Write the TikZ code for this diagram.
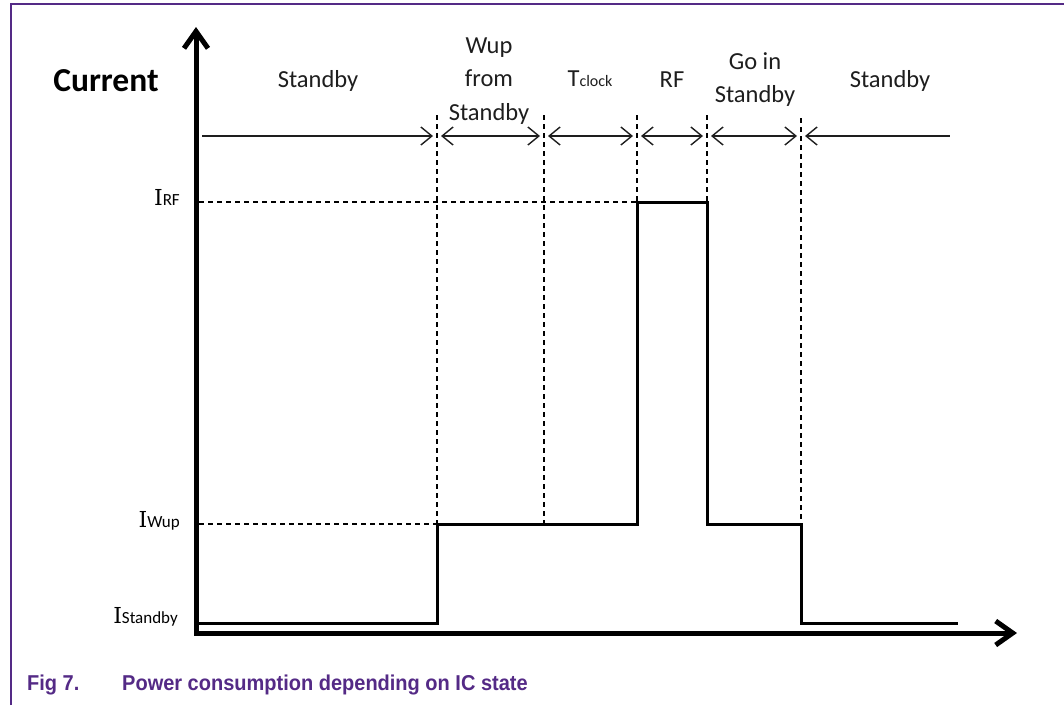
\documentclass[tikz,border=0pt]{standalone}
\usepackage{fontspec}
\setmainfont{Carlito}
\newfontfamily\capfont[FakeStretch=0.93]{Liberation Sans}
\newfontfamily\serifI{DejaVu Serif}
\usetikzlibrary{arrows.meta}
\definecolor{nxppurple}{RGB}{84,42,134}
\definecolor{txt}{RGB}{30,30,30}
\begin{document}
\begin{tikzpicture}[x=1pt,y=-1pt,
  lbl/.style={font=\fontsize{24.5}{33}\selectfont, text=txt, inner sep=0pt, anchor=base},
  ilbl/.style={inner sep=0pt, anchor=base east, text=black},
  span/.style={line width=1.4pt, draw=txt},
  barb/.tip={Straight Barb[length=11pt,width=18pt]},
  bigbarb/.tip={Straight Barb[length=17pt,width=24pt]},
  axis/.style={line width=5pt, draw=black, line join=miter},
  wave/.style={line width=3pt, draw=black, line join=miter},
  guide/.style={line width=1.3pt, draw=black, dash pattern=on 5pt off 4pt},
  frame/.style={line width=1.5pt, draw=nxppurple},
  caption/.style={inner sep=0pt, anchor=base west, text=nxppurple, font=\capfont\bfseries\fontsize{21.5}{21.5}\selectfont}]
\useasboundingbox (0,0) rectangle (1064,705);
\fill[white] (0,0) rectangle (1064,705);
% frame
\coordinate (fb) at (11,705);
\coordinate (fc) at (11,4);
\coordinate (fr) at (1064,4);
\draw[frame] (fb) -- (fc) -- (fr);

% axes
\coordinate (org) at (196,633);
\coordinate (ytip) at (196,27);
\coordinate (xtip) at (1017,633);
\draw[axis, bigbarb-bigbarb] (ytip) -- (org) -- (xtip);

% waveform
\coordinate (w0) at (198,623);
\coordinate (w1) at (437,623);
\coordinate (w2) at (437,524);
\coordinate (w3) at (637,524);
\coordinate (w4) at (637,202);
\coordinate (w5) at (707,202);
\coordinate (w6) at (707,524);
\coordinate (w7) at (801,524);
\coordinate (w8) at (801,623);
\coordinate (w9) at (958,623);
\draw[wave] (w0) -- (w1) -- (w2) -- (w3) -- (w4) -- (w5) -- (w6) -- (w7) -- (w8) -- (w9);

% horizontal guides
\coordinate (hrf) at (199,202);
\coordinate (hwup) at (199,524);
\draw[guide] (hrf) -- (w4);
\draw[guide] (hwup) -- (w2);

% vertical guides
\coordinate (v1) at (437,115);
\coordinate (v2) at (544,115);
\coordinate (v2b) at (544,524);
\coordinate (v3) at (637,115);
\coordinate (v4) at (707,115);
\coordinate (v5) at (801,118);
\draw[guide] (v1) -- (w2);
\draw[guide] (v2) -- (v2b);
\draw[guide] (v3) -- (w4);
\draw[guide] (v4) -- (w5);
\draw[guide] (v5) -- (w7);

% span arrows
\coordinate (a0) at (202,136);
\coordinate (a1) at (433,136);
\coordinate (a2) at (441,136);
\coordinate (a3) at (540,136);
\coordinate (a4) at (548,136);
\coordinate (a5) at (633,136);
\coordinate (a6) at (641,136);
\coordinate (a7) at (703,136);
\coordinate (a8) at (711,136);
\coordinate (a9) at (797,136);
\coordinate (a10) at (805,136);
\coordinate (a11) at (950,136);
\draw[span, -barb] (a0) -- (a1);
\draw[span, barb-barb] (a2) -- (a3);
\draw[span, barb-barb] (a4) -- (a5);
\draw[span, barb-barb] (a6) -- (a7);
\draw[span, barb-barb] (a8) -- (a9);
\draw[span, barb-] (a10) -- (a11);

% top labels
\node[lbl, font=\bfseries\fontsize{33.5}{33.5}\selectfont, text=black] (cur) at (106,91) {Current};
\node[lbl] (s1) at (318,87) {Standby};
\node[lbl] (wa) at (489,53) {Wup};
\node[lbl] (wb) at (489,86) {from};
\node[lbl] (wc) at (489,120) {Standby};
\node[lbl] (tc) at (590,86) {T{\fontsize{16}{16}\selectfont clock}};
\node[lbl] (rf) at (672,87) {RF};
\node[lbl] (ga) at (755,69) {Go in};
\node[lbl] (gb) at (755,102.5) {Standby};
\node[lbl] (s2) at (890,87) {Standby};

% level labels
\node[ilbl] (irf) at (180,205) {{\serifI\fontsize{22}{22}\selectfont I}{\fontsize{17}{17}\selectfont RF}};
\node[ilbl] (iwup) at (180,527) {{\serifI\fontsize{22}{22}\selectfont I}{\fontsize{17}{17}\selectfont Wup}};
\node[ilbl] (isb) at (178,623) {{\serifI\fontsize{22}{22}\selectfont I}{\fontsize{17}{17}\selectfont Standby}};

% caption
\node[caption] (fig) at (27,690) {Fig 7.};
\node[caption] (cap) at (122,690) {Power consumption depending on IC state};
\end{tikzpicture}
\end{document}
